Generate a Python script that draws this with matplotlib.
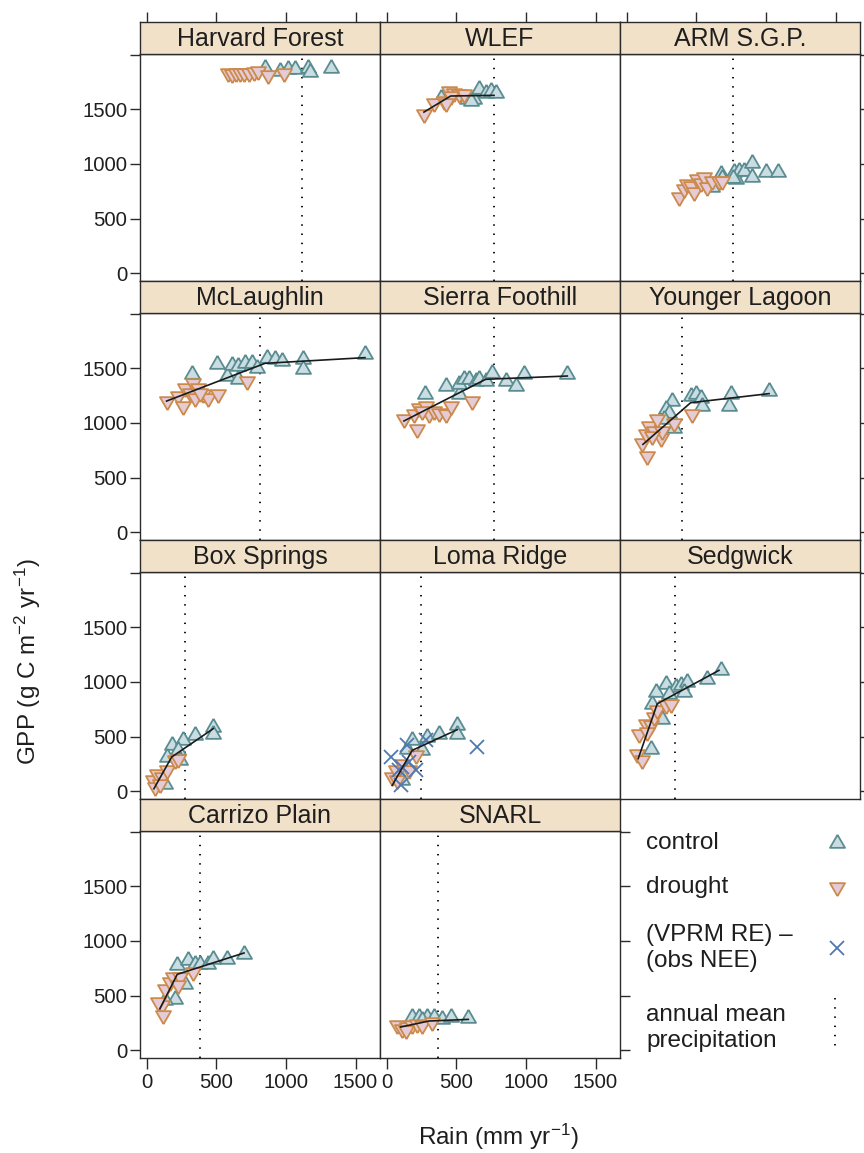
import matplotlib
matplotlib.use("Agg")
import matplotlib.pyplot as plt

plt.rcParams['font.family'] = ['Liberation Sans', 'DejaVu Sans']
plt.rcParams['mathtext.fontset'] = 'custom'
plt.rcParams['mathtext.rm'] = 'Liberation Sans'
plt.rcParams['mathtext.it'] = 'Liberation Sans'
plt.rcParams['mathtext.bf'] = 'Liberation Sans:bold'

# ---------------- data ----------------
site_names = ["Harvard Forest", "WLEF", "ARM S.G.P.",
              "McLaughlin", "Sierra Foothill", "Younger Lagoon",
              "Box Springs", "Loma Ridge", "Sedgwick",
              "Carrizo Plain", "SNARL"]

# annual mean precipitation (mm/yr)
map_rain = [1115, 770, 765, 813, 770, 398, 273, 247, 345, 381, 367]

harvard_ctrl_rain = [849, 957, 1014, 1062, 1160, 1170, 1324]
harvard_ctrl_gpp = [1880, 1850, 1870, 1870, 1880, 1840, 1880]
harvard_drt_rain = [583, 610, 640, 670, 700, 735, 770, 800, 871, 986]
harvard_drt_gpp = [1830, 1825, 1830, 1830, 1835, 1835, 1840, 1850, 1815, 1835]
harvard_fit_rain = []
harvard_fit_gpp = []

wlef_ctrl_rain = [386, 578, 626, 662, 710, 746, 782, 602]
wlef_ctrl_gpp = [1606, 1590, 1590, 1682, 1651, 1667, 1651, 1575]
wlef_drt_rain = [266, 338, 410, 446, 482, 518, 554, 458, 422]
wlef_drt_gpp = [1453, 1560, 1575, 1667, 1652, 1636, 1636, 1621, 1560]
wlef_fit_rain = [266, 458, 770]
wlef_fit_gpp = [1474, 1621, 1627]

arm_ctrl_rain = [676, 614, 686, 770, 782, 806, 842, 902, 902, 997, 1089, 760]
arm_ctrl_gpp = [910, 790, 870, 930, 860, 940, 935, 1010, 880, 930, 930, 870]
arm_drt_rain = [374, 410, 434, 458, 482, 506, 530, 554, 578, 614, 662, 686]
arm_drt_gpp = [700, 775, 820, 800, 740, 860, 830, 880, 790, 840, 840, 845]
arm_fit_rain = []
arm_fit_gpp = []

mcl_ctrl_rain = [321, 501, 573, 609, 657, 657, 705, 753, 789, 861, 921, 969, 1125, 1125, 1568]
mcl_ctrl_gpp = [1444, 1536, 1429, 1527, 1520, 1399, 1551, 1551, 1505, 1597, 1581, 1566, 1581, 1490, 1627]
mcl_drt_rain = [141, 225, 261, 273, 309, 333, 345, 369, 405, 441, 513, 717, 381]
mcl_drt_gpp = [1200, 1246, 1155, 1322, 1277, 1368, 1231, 1322, 1262, 1231, 1262, 1384, 1277]
mcl_fit_rain = [141, 849, 1568]
mcl_fit_gpp = [1200, 1545, 1597]

sierra_ctrl_rain = [273, 422, 518, 518, 554, 590, 638, 662, 710, 758, 854, 926, 986, 1297]
sierra_ctrl_gpp = [1261, 1338, 1261, 1353, 1399, 1399, 1384, 1399, 1384, 1460, 1384, 1338, 1445, 1445]
sierra_drt_rain = [122, 194, 218, 230, 278, 302, 338, 374, 422, 458, 614, 254]
sierra_drt_gpp = [1033, 1079, 942, 1140, 1155, 1079, 1109, 1094, 1079, 1155, 1201, 1109]
sierra_fit_rain = [122, 710, 1297]
sierra_fit_gpp = [1018, 1399, 1429]

yl_ctrl_rain = [321, 278, 302, 338, 458, 494, 530, 542, 746, 734, 1022, 266]
yl_ctrl_gpp = [1200, 1124, 1094, 957, 1246, 1261, 1231, 1155, 1261, 1155, 1292, 1033]
yl_drt_rain = [110, 146, 134, 158, 194, 218, 242, 254, 338, 465, 182]
yl_drt_gpp = [820, 698, 896, 972, 926, 1033, 865, 926, 1002, 1079, 880]
yl_fit_rain = [115, 458, 1022]
yl_fit_gpp = [804, 1185, 1268]

box_ctrl_rain = [178, 141, 261, 225, 345, 477, 477, 237, 129]
box_ctrl_gpp = [420, 314, 466, 375, 512, 588, 527, 283, 70]
box_drt_rain = [46, 70, 105, 141, 201, 225, 58, 93]
box_drt_gpp = [101, 162, 131, 192, 283, 299, 40, 70]
box_fit_rain = [50, 178, 477]
box_fit_gpp = [24, 314, 573]

loma_ctrl_rain = [146, 182, 254, 290, 374, 506, 506, 110]
loma_ctrl_gpp = [390, 466, 375, 497, 527, 604, 527, 101]
loma_drt_rain = [38, 62, 110, 158, 206, 74]
loma_drt_gpp = [131, 192, 253, 192, 329, 101]
loma_x_rain = [26, 110, 158, 206, 98, 146, 278, 650, 86]
loma_x_gpp = [314, 222, 268, 192, 55, 420, 466, 405, 192]
loma_fit_rain = [38, 182, 506]
loma_fit_gpp = [55, 375, 564]

sedg_ctrl_rain = [206, 278, 350, 386, 434, 410, 578, 674, 182, 254, 170, 302]
sedg_ctrl_gpp = [908, 984, 954, 969, 999, 908, 1030, 1106, 801, 664, 390, 893]
sedg_drt_rain = [74, 110, 86, 134, 170, 194, 218, 278, 314, 146]
sedg_drt_gpp = [345, 284, 528, 619, 603, 680, 741, 786, 801, 543]
sedg_fit_rain = [81, 218, 662]
sedg_fit_gpp = [299, 801, 1106]

carr_ctrl_rain = [213, 297, 345, 381, 441, 477, 573, 698, 201, 273, 129]
carr_ctrl_gpp = [777, 823, 792, 792, 792, 838, 838, 884, 472, 609, 457]
carr_drt_rain = [105, 117, 129, 165, 189, 237, 333, 81, 225]
carr_drt_gpp = [411, 320, 564, 625, 670, 670, 716, 442, 594]
carr_fit_rain = [93, 218, 698]
carr_fit_gpp = [381, 695, 890]

snarl_ctrl_rain = [182, 230, 290, 338, 398, 458, 585, 254]
snarl_ctrl_gpp = [305, 305, 305, 305, 290, 305, 299, 274]
snarl_drt_rain = [74, 110, 146, 182, 218, 254, 326, 134]
snarl_drt_gpp = [229, 198, 213, 229, 244, 229, 259, 183]
snarl_fit_rain = [98, 302, 585]
snarl_fit_gpp = [213, 268, 283]

ctrl_rain = [harvard_ctrl_rain, wlef_ctrl_rain, arm_ctrl_rain, mcl_ctrl_rain, sierra_ctrl_rain,
             yl_ctrl_rain, box_ctrl_rain, loma_ctrl_rain, sedg_ctrl_rain, carr_ctrl_rain, snarl_ctrl_rain]
ctrl_gpp = [harvard_ctrl_gpp, wlef_ctrl_gpp, arm_ctrl_gpp, mcl_ctrl_gpp, sierra_ctrl_gpp,
            yl_ctrl_gpp, box_ctrl_gpp, loma_ctrl_gpp, sedg_ctrl_gpp, carr_ctrl_gpp, snarl_ctrl_gpp]
drt_rain = [harvard_drt_rain, wlef_drt_rain, arm_drt_rain, mcl_drt_rain, sierra_drt_rain,
            yl_drt_rain, box_drt_rain, loma_drt_rain, sedg_drt_rain, carr_drt_rain, snarl_drt_rain]
drt_gpp = [harvard_drt_gpp, wlef_drt_gpp, arm_drt_gpp, mcl_drt_gpp, sierra_drt_gpp,
           yl_drt_gpp, box_drt_gpp, loma_drt_gpp, sedg_drt_gpp, carr_drt_gpp, snarl_drt_gpp]
fit_rain = [harvard_fit_rain, wlef_fit_rain, arm_fit_rain, mcl_fit_rain, sierra_fit_rain,
            yl_fit_rain, box_fit_rain, loma_fit_rain, sedg_fit_rain, carr_fit_rain, snarl_fit_rain]
fit_gpp = [harvard_fit_gpp, wlef_fit_gpp, arm_fit_gpp, mcl_fit_gpp, sierra_fit_gpp,
           yl_fit_gpp, box_fit_gpp, loma_fit_gpp, sedg_fit_gpp, carr_fit_gpp, snarl_fit_gpp]

x_ticks = [0, 500, 1000, 1500]
y_ticks = [0, 500, 1000, 1500, 2000]
y_ticklabels = ["0", "500", "1000", "1500", ""]

# ---------------- style ----------------
CTRL_EDGE = "#5a8d92"
CTRL_FACE = "#cadde2"
DRT_EDGE = "#cc8a4c"
DRT_FACE = "#e5cbd6"
X_COL = "#4f78b2"
STRIP_FACE = "#f2e1c9"
FRAME = "#2b2b2b"
TXT = "#1e1e1e"

UP = [(0, 1), (-0.866, -0.5), (0.866, -0.5), (0, 1)]
DOWN = [(0, -1), (-0.866, 0.5), (0.866, 0.5), (0, -1)]
MS = 12.5
MEW = 1.3

FW, FH = 864, 1153
fig = plt.figure(figsize=(FW / 100, FH / 100), dpi=100)


def frac(x, y, w, h):
    return [x / FW, 1 - (y + h) / FH, w / FW, h / FH]


col_x = [140, 380, 620]
panel_w = 240
row_top = [22, 281, 540, 799]
strip_h = 32
panel_h = 227
XLIM = (-50, 1676)
YLIM = (-70, 2005)
TICK_LEN = 7

for i, name in enumerate(site_names):
    r, c = divmod(i, 3)
    x0 = col_x[c]
    ax = fig.add_axes(frac(x0, row_top[r] + strip_h, panel_w, panel_h))
    axs = fig.add_axes(frac(x0, row_top[r], panel_w, strip_h))

    ax.set_xlim(*XLIM)
    ax.set_ylim(*YLIM)
    for sp in ax.spines.values():
        sp.set_color(FRAME)
        sp.set_linewidth(1.0)

    # dotted mean annual precipitation line
    ax.axvline(map_rain[i], color="black", lw=1.3, ls=(0, (0.8, 4.3)), zorder=1)

    ax.plot(ctrl_rain[i], ctrl_gpp[i], ls="none", marker=UP, ms=MS,
            mfc=CTRL_FACE, mec=CTRL_EDGE, mew=MEW, zorder=3)
    ax.plot(drt_rain[i], drt_gpp[i], ls="none", marker=DOWN, ms=MS,
            mfc=DRT_FACE, mec=DRT_EDGE, mew=MEW, zorder=3)
    if name == "Loma Ridge":
        ax.plot(loma_x_rain, loma_x_gpp, ls="none", marker="x", ms=10,
                mec=X_COL, mew=1.3, zorder=4)
    if len(fit_rain[i]) > 0:
        ax.plot(fit_rain[i], fit_gpp[i], color="#1a1a1a", lw=1.2, zorder=5)

    ax.set_xticks(x_ticks)
    ax.set_yticks(y_ticks)
    ax.set_yticklabels(y_ticklabels)
    ax.tick_params(axis="y", direction="out", length=TICK_LEN, width=1.0,
                   color=FRAME, labelsize=14.6, labelcolor=TXT, pad=2,
                   left=(c == 0), labelleft=(c == 0),
                   right=(c == 2 or i == 10), labelright=False)
    ax.tick_params(axis="x", direction="out", length=TICK_LEN + 1, width=1.0,
                   color=FRAME, labelsize=14.6, labelcolor=TXT, pad=3,
                   bottom=(r == 3), labelbottom=(r == 3), top=False, labeltop=False)

    # strip
    axs.set_facecolor(STRIP_FACE)
    axs.set_xlim(*XLIM)
    axs.set_yticks([])
    axs.set_xticks(x_ticks)
    axs.tick_params(axis="x", direction="out", length=TICK_LEN, width=1.0, color=FRAME,
                    top=(r == 0), bottom=False, labeltop=False, labelbottom=False)
    for sp in axs.spines.values():
        sp.set_color(FRAME)
        sp.set_linewidth(1.0)
    axs.text(0.5, 0.46, name, transform=axs.transAxes, ha="center", va="center",
             fontsize=18, color=TXT)

# axis labels
fig.text(28 / FW, 1 - 662 / FH, r"GPP (g C m$^{-2}$ yr$^{-1}$)", rotation=90,
         ha="center", va="center", fontsize=17.5, color=TXT)
fig.text(498 / FW, 1 - 1137 / FH, r"Rain (mm yr$^{-1}$)", ha="center", va="center",
         fontsize=17.5, color=TXT)

# legend (drawn in a pixel-coordinate axes)
lg = fig.add_axes(frac(620, 830, 244, 230))
lg.set_xlim(620, 864)
lg.set_ylim(1060, 830)
lg.axis("off")
lg.text(646, 843, "control", ha="left", va="center", fontsize=17.5, color=TXT)
lg.text(646, 887, "drought", ha="left", va="center", fontsize=17.5, color=TXT)
lg.text(646, 948, "(VPRM RE) \u2013\n(obs NEE)", ha="left", va="center", fontsize=17.5,
        color=TXT, linespacing=1.2)
lg.text(646, 1028, "annual mean\nprecipitation", ha="left", va="center", fontsize=17.5,
        color=TXT, linespacing=1.2)
lg.plot([837], [843], ls="none", marker=UP, ms=MS, mfc=CTRL_FACE, mec=CTRL_EDGE, mew=MEW)
lg.plot([837], [887], ls="none", marker=DOWN, ms=MS, mfc=DRT_FACE, mec=DRT_EDGE, mew=MEW)
lg.plot([837], [948], ls="none", marker="x", ms=10, mec=X_COL, mew=1.3)
lg.plot([835, 835], [998, 1050], color="black", lw=1.3, ls=(0, (0.8, 4.3)))

fig.savefig("out.png", dpi=100)
